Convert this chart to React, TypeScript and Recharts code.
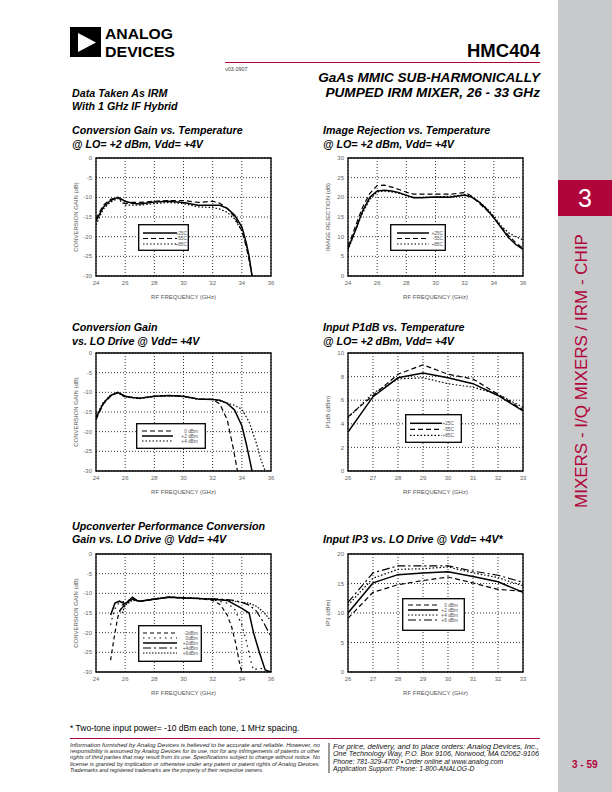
import React from "react";
import { LineChart, Line, XAxis, YAxis, CartesianGrid, ReferenceArea } from "recharts";

const FONT = '"Liberation Sans", Arial, Helvetica, sans-serif';
const RED = "#b0053b";

// axis ticks
const freqTicksWide = [24, 26, 28, 30, 32, 34, 36];
const freqTicksNarrow = [26, 27, 28, 29, 30, 31, 32, 33];
const gainTicks = [-30, -25, -20, -15, -10, -5, 0];
const irTicks = [0, 5, 10, 15, 20, 25, 30];
const p1Ticks = [0, 2, 4, 6, 8, 10];
const ip3Ticks = [0, 5, 10, 15, 20];

// legend names
const tempNames = ["+25C", "-55C", "+85C"];
const loNames = ["0 dBm", "+2 dBm", "+4 dBm"];
const upNames = ["-2dBm", "0dBm", "+2dBm", "+4dBm", "+6dBm"];
const ip3Names = ["0 dBm", "+2 dBm", "+4 dBm", "+6 dBm"];

// Conversion gain vs temperature
const cgTempFreq = [24, 24.5, 25, 25.5, 26, 26.5, 27, 28, 29, 30, 31, 32, 32.5, 33, 33.5, 34, 34.3, 34.5, 34.7];
const cgTemp25 = [-16, -12.5, -10.8, -10, -11, -11.5, -11.7, -11.2, -11, -11.3, -12, -12, -12, -12.8, -14.5, -17.5, -21.5, -25, -30];
const cgTempM55 = [-15.5, -12, -10.5, -10, -11.6, -11.3, -11.3, -11, -10.8, -10.8, -11.3, -11, -11.5, -12.8, -15, -18.5, -22.5, -26, -30];
const cgTemp85 = [-17, -13, -11.2, -10.3, -12, -12, -12, -11.6, -11.3, -11.6, -12.4, -12.6, -13, -13.8, -15.5, -18.5, -22, -25.5, -30];

// Image rejection vs temperature
const irFreq = [24, 24.5, 25, 25.5, 26, 26.5, 27, 27.5, 28, 28.5, 29, 30, 31, 32, 32.5, 33, 33.5, 34, 34.5, 35, 35.5, 36];
const ir25 = [7, 11.5, 16.5, 20, 21.6, 21.8, 21.6, 21.2, 20.5, 19.9, 19.9, 20.1, 20, 20.6, 20, 18.8, 17, 14.8, 12.3, 9.8, 8, 6.8];
const irM55 = [7.5, 12.5, 17.5, 21, 23, 23.1, 22.6, 22, 21.3, 20.8, 20.8, 20.8, 20.8, 21.2, 20.3, 18.5, 16.8, 14.8, 12.5, 10.3, 8.5, 7];
const ir85 = [6.5, 11.5, 16, 19.5, 21.4, 21.6, 21.4, 21, 20.4, 20, 20, 20.1, 20.3, 20.6, 20.2, 18.8, 17.3, 15.2, 12.8, 11, 10, 9.2];

// Conversion gain vs LO drive
const cgLo0Freq = [24, 24.5, 25, 25.5, 26, 26.5, 27, 28, 29, 30, 31, 32, 32.5, 33, 33.4, 33.7];
const cgLo0 = [-17, -13, -11, -10, -11.2, -11.3, -11.5, -11, -10.8, -11, -11.7, -11.8, -13, -17, -24, -30];
const cgLo2Freq = [24, 24.5, 25, 25.5, 26, 26.5, 27, 28, 29, 30, 31, 32, 32.5, 33, 33.5, 34, 34.3, 34.7];
const cgLo2 = [-16.5, -12.8, -10.8, -10, -11, -11.3, -11.5, -11, -10.8, -11, -11.7, -11.8, -12, -12.8, -14.5, -18.5, -23, -30];
const cgLo4Freq = [24, 24.5, 25, 25.5, 26, 26.5, 27, 28, 29, 30, 31, 32, 32.5, 33, 33.5, 34, 34.5, 35, 35.3, 35.6];
const cgLo4 = [-16, -12.5, -10.8, -10.2, -11.2, -11.4, -11.6, -11.1, -10.9, -11.1, -11.8, -11.8, -12.2, -12.7, -13.3, -14.3, -17.5, -23, -27, -30];

// Input P1dB vs temperature
const p1Freq = [26, 27, 28, 29, 30, 31, 32, 33];
const p1_25 = [3.3, 6.3, 7.9, 8.3, 7.9, 7.4, 6.4, 5.1];
const p1_M55 = [4.6, 6.4, 8.2, 9.0, 8.2, 7.8, 6.5, 5.2];
const p1_85 = [4.5, 6.6, 7.8, 7.9, 7.4, 7.1, 6.5, 5.4];

// Upconverter conversion gain vs LO drive
const upM2Freq = [25, 25.3, 25.5, 25.8, 26, 26.5, 27, 28, 29, 30, 31, 32, 32.5, 33, 33.3, 33.6, 33.8, 34];
const upM2 = [-27, -20, -16, -13, -12.5, -11.5, -12, -11.5, -11, -11.2, -11.3, -11.8, -12.8, -15.5, -18.5, -23, -27, -30];
const up0Freq = [25, 25.2, 25.4, 25.7, 26, 26.5, 27, 28, 29, 30, 31, 32, 33, 33.5, 34, 34.3, 34.6, 34.8, 35.2, 35.5];
const up0 = [-18, -15, -13, -12.3, -12, -11.5, -12, -11.5, -11, -11.2, -11.3, -11.6, -12.5, -14, -18, -22, -27, -29.5, -29, -29.3];
const up2Freq = [25, 25.3, 25.6, 26, 26.5, 26.8, 27, 28, 29, 30, 31, 32, 33, 33.5, 34, 34.5, 34.8, 35.2, 35.6, 36];
const up2 = [-15.5, -12.5, -12, -12.7, -11, -11.8, -12, -11.5, -11, -11.2, -11.3, -11.5, -11.8, -12.8, -13.8, -15, -20, -25, -29.5, -30];
const up4Freq = [25.6, 26, 26.5, 27, 28, 29, 30, 31, 32, 33, 33.5, 34, 34.5, 35, 35.5, 36];
const up4 = [-14.5, -12.8, -11.5, -12, -11.4, -10.9, -11.1, -11.3, -11.4, -11.6, -11.8, -12.3, -13, -14.5, -17.5, -21];
const up6Freq = [25.8, 26, 26.5, 27, 28, 29, 30, 31, 32, 33, 34, 34.5, 35, 35.5, 36];
const up6 = [-15, -13, -11.8, -12, -11.4, -11, -11.1, -11.3, -11.4, -11.7, -12.3, -12.5, -13.3, -14.8, -17];

// Input IP3 vs LO drive
const ip3Freq = [26, 27, 28, 29, 30, 31, 32, 33];
const ip3_0 = [9.1, 13.5, 14.8, 15.5, 16.1, 15.1, 14, 13.7];
const ip3_2 = [10, 15.1, 16.5, 16.8, 17, 16.2, 15.3, 13.5];
const ip3_4 = [11.3, 15.9, 17.4, 17.5, 17.8, 16.8, 16, 14.6];
const ip3_6 = [11.8, 16.8, 18, 18, 18, 17.1, 16.4, 15.2];

const SOLID = undefined;
const DASH = "5 3";
const DOT = "1.5 2";

type Series = { name: string; xs: number[]; ys: number[]; dash?: string; w?: number };
type LegendPos = { x: number; y: number; w: number; h: number; l1: number; l2: number; tx: number; r0: number; dr: number };

const zip = (xs: number[], ys: number[]) => xs.map((x, i) => ({ x, y: ys[i] }));

function LegendBox({ pos, series }: { pos: LegendPos; series: Series[] }) {
  return (
    <svg style={{ position: "absolute", left: pos.x, top: pos.y }} width={pos.w} height={pos.h}>
      <rect x={0.7} y={0.7} width={pos.w - 1.4} height={pos.h - 1.4} fill="#fff" stroke="#000" strokeWidth={1.3} />
      {series.map((s, i) => {
        const y = pos.r0 + i * pos.dr;
        return (
          <g key={s.name}>
            <line x1={pos.l1} x2={pos.l2} y1={y} y2={y} stroke="#000" strokeWidth={s.w ?? 1.2} strokeDasharray={s.dash} />
            <text x={pos.tx} y={y + 1.7} fontSize={4.8} fill="#555" textAnchor="end" fontFamily={FONT}>
              {s.name}
            </text>
          </g>
        );
      })}
    </svg>
  );
}

function Plot(props: {
  left: number;
  top: number;
  xTicks: number[];
  yTicks: number[];
  yLabel: string;
  series: Series[];
  legend: LegendPos;
}) {
  const { left, top, xTicks, yTicks, yLabel, series, legend } = props;
  const xd = [xTicks[0], xTicks[xTicks.length - 1]];
  const yd = [yTicks[0], yTicks[yTicks.length - 1]];
  const tick = { fontSize: 6, fill: "#666", fontFamily: FONT };
  return (
    <div style={{ position: "absolute", left, top, width: 220, height: 160 }}>
      <LineChart width={220} height={160} margin={{ top: 8, right: 9, bottom: 4, left: 0 }}>
        <CartesianGrid stroke="#000" strokeWidth={0.8} strokeDasharray="1 2" />
        <XAxis
          type="number"
          dataKey="x"
          domain={xd}
          ticks={xTicks}
          interval={0}
          allowDataOverflow
          height={30}
          tickSize={0}
          tickMargin={5}
          axisLine={false}
          tick={tick}
          label={{ value: "RF FREQUENCY (GHz)", position: "insideBottom", offset: 7, style: { fontSize: 6, fill: "#555", fontFamily: FONT } }}
        />
        <YAxis
          type="number"
          dataKey="y"
          domain={yd}
          ticks={yTicks}
          interval={0}
          allowDataOverflow
          width={36}
          tickSize={0}
          tickMargin={4}
          axisLine={false}
          tick={tick}
          label={{ value: yLabel, angle: -90, position: "insideLeft", offset: 16, style: { textAnchor: "middle", fontSize: 6, fill: "#555", fontFamily: FONT } }}
        />
        {series.map((s) => (
          <Line
            key={s.name}
            name={s.name}
            data={zip(s.xs, s.ys)}
            dataKey="y"
            type="linear"
            stroke="#000"
            strokeWidth={s.w ?? 1.2}
            strokeDasharray={s.dash}
            dot={false}
            activeDot={false}
            isAnimationActive={false}
          />
        ))}
        <ReferenceArea x1={xd[0]} x2={xd[1]} y1={yd[0]} y2={yd[1]} fill="none" stroke="#000" strokeWidth={1.3} />
      </LineChart>
      <LegendBox pos={legend} series={series} />
    </div>
  );
}

function Txt(props: { x: number; y: number; size: number; bold?: boolean; italic?: boolean; color?: string; end?: boolean; children: React.ReactNode }) {
  const { x, y, size, bold, italic, color = "#000", end, children } = props;
  const style: React.CSSProperties = {
    position: "absolute",
    top: y - 0.92 * size,
    fontSize: size,
    lineHeight: `${size * 1.15}px`,
    fontWeight: bold ? 700 : 400,
    fontStyle: italic ? "italic" : "normal",
    color,
    whiteSpace: "nowrap",
    fontFamily: FONT,
  };
  if (end) style.right = 612 - x;
  else style.left = x;
  return <div style={style}>{children}</div>;
}

const disclaimer = [
  "Information furnished by Analog Devices is believed to be accurate and reliable. However, no",
  "responsibility is assumed by Analog Devices for its use, nor for any infringements of patents or other",
  "rights of third parties that may result from its use. Specifications subject to change without notice. No",
  "license is granted by implication or otherwise under any patent or patent rights of Analog Devices.",
  "Trademarks and registered trademarks are the property of their respective owners.",
];
const contact = [
  "For price, delivery, and to place orders: Analog Devices, Inc.,",
  "One Technology Way, P.O. Box 9106, Norwood, MA 02062-9106",
  "Phone: 781-329-4700 \u2022 Order online at www.analog.com",
  "Application Support: Phone: 1-800-ANALOG-D",
];

export default function App() {
  const tempSeries = (xs: number[], a: number[], b: number[], c: number[]): Series[] => [
    { name: tempNames[0], xs, ys: a, dash: SOLID, w: 1.5 },
    { name: tempNames[1], xs, ys: b, dash: DASH },
    { name: tempNames[2], xs, ys: c, dash: DOT },
  ];
  const cgLoSeries: Series[] = [
    { name: loNames[0], xs: cgLo0Freq, ys: cgLo0, dash: DASH },
    { name: loNames[1], xs: cgLo2Freq, ys: cgLo2, dash: SOLID, w: 1.5 },
    { name: loNames[2], xs: cgLo4Freq, ys: cgLo4, dash: DOT },
  ];
  const upSeries: Series[] = [
    { name: upNames[0], xs: upM2Freq, ys: upM2, dash: "4 3" },
    { name: upNames[1], xs: up0Freq, ys: up0, dash: "1.5 4" },
    { name: upNames[2], xs: up2Freq, ys: up2, dash: SOLID, w: 1.5 },
    { name: upNames[3], xs: up4Freq, ys: up4, dash: "8 3 2 3" },
    { name: upNames[4], xs: up6Freq, ys: up6, dash: "1.5 1.5" },
  ];
  const ip3Series: Series[] = [
    { name: ip3Names[0], xs: ip3Freq, ys: ip3_0, dash: DASH },
    { name: ip3Names[1], xs: ip3Freq, ys: ip3_2, dash: SOLID, w: 1.5 },
    { name: ip3Names[2], xs: ip3Freq, ys: ip3_4, dash: DOT },
    { name: ip3Names[3], xs: ip3Freq, ys: ip3_6, dash: "8 3 2 3" },
  ];

  return (
    <div style={{ position: "absolute", left: 0, top: 0, width: 612, height: 792, background: "#fff", overflow: "hidden", fontFamily: FONT }}>
      {/* side tab */}
      <div style={{ position: "absolute", left: 558, top: 0, width: 54, height: 792, background: "#c8c9cb" }} />
      <div style={{ position: "absolute", left: 558, top: 180, width: 54, height: 36, background: RED, color: "#fff", fontSize: 25, lineHeight: "36px", textAlign: "center" }}>3</div>
      <div style={{ position: "absolute", left: 432, top: 361, width: 300, height: 20, lineHeight: "20px", textAlign: "center", transform: "rotate(-90deg)", color: RED, fontSize: 17, whiteSpace: "nowrap" }}>
        MIXERS - I/Q MIXERS / IRM - CHIP
      </div>

      {/* logo */}
      <svg style={{ position: "absolute", left: 70, top: 26 }} width={150} height={34}>
        <rect x={0} y={1} width={31} height={30} fill="#000" />
        <polygon points="8,7 8,26 26,16.5" fill="#fff" />
        <text x={35} y={13} fontSize={15.5} fontWeight={700} textLength={68} lengthAdjust="spacingAndGlyphs" fontFamily={FONT}>ANALOG</text>
        <text x={35} y={30.5} fontSize={15.5} fontWeight={700} textLength={70} lengthAdjust="spacingAndGlyphs" fontFamily={FONT}>DEVICES</text>
      </svg>

      <Txt x={540} y={57} size={18.5} bold end>HMC404</Txt>
      <div style={{ position: "absolute", left: 225, top: 62, width: 315, height: 1.2, background: RED }} />
      <Txt x={225} y={71} size={5.5} color="#444">v03.0907</Txt>
      <Txt x={540} y={83} size={13.6} bold italic end>GaAs MMIC SUB-HARMONICALLY</Txt>
      <Txt x={540} y={98} size={13.6} bold italic end>PUMPED IRM MIXER, 26 - 33 GHz</Txt>
      <Txt x={72} y={97} size={10.7} bold italic>Data Taken As IRM</Txt>
      <Txt x={72} y={110} size={10.7} bold italic>With 1 GHz IF Hybrid</Txt>

      {/* chart titles */}
      <Txt x={72} y={134} size={10.7} bold italic>Conversion Gain vs. Temperature</Txt>
      <Txt x={72} y={147.5} size={10.7} bold italic>@ LO= +2 dBm, Vdd= +4V</Txt>
      <Txt x={323} y={134} size={10.7} bold italic>Image Rejection vs. Temperature</Txt>
      <Txt x={323} y={147.5} size={10.7} bold italic>@ LO= +2 dBm, Vdd= +4V</Txt>
      <Txt x={72} y={330.5} size={10.7} bold italic>Conversion Gain</Txt>
      <Txt x={72} y={345} size={10.7} bold italic>vs. LO Drive @ Vdd= +4V</Txt>
      <Txt x={323} y={330.5} size={10.7} bold italic>Input P1dB vs. Temperature</Txt>
      <Txt x={323} y={345} size={10.7} bold italic>@ LO= +2 dBm, Vdd= +4V</Txt>
      <Txt x={72} y={529.5} size={10.7} bold italic>Upconverter Performance Conversion</Txt>
      <Txt x={72} y={543} size={10.7} bold italic>Gain vs. LO Drive @ Vdd= +4V</Txt>
      <Txt x={323} y={542.5} size={10.7} bold italic>Input IP3 vs. LO Drive @ Vdd= +4V*</Txt>

      <Plot left={60} top={150} xTicks={freqTicksWide} yTicks={gainTicks} yLabel="CONVERSION GAIN (dB)"
        series={tempSeries(cgTempFreq, cgTemp25, cgTempM55, cgTemp85)}
        legend={{ x: 78, y: 74, w: 51, h: 27, l1: 5, l2: 39, tx: 49, r0: 9, dr: 5.5 }} />
      <Plot left={312} top={150} xTicks={freqTicksWide} yTicks={irTicks} yLabel="IMAGE REJECTION (dB)"
        series={tempSeries(irFreq, ir25, irM55, ir85)}
        legend={{ x: 78, y: 74, w: 56, h: 27, l1: 7, l2: 39, tx: 53, r0: 9, dr: 5.5 }} />
      <Plot left={60} top={345} xTicks={freqTicksWide} yTicks={gainTicks} yLabel="CONVERSION GAIN (dB)"
        series={cgLoSeries}
        legend={{ x: 76, y: 78, w: 70, h: 26, l1: 6, l2: 37, tx: 62, r0: 8, dr: 5 }} />
      <Plot left={312} top={345} xTicks={freqTicksNarrow} yTicks={p1Ticks} yLabel="P1dB  (dBm)"
        series={tempSeries(p1Freq, p1_25, p1_M55, p1_85)}
        legend={{ x: 93, y: 69, w: 57, h: 29, l1: 5, l2: 37, tx: 49, r0: 9.3, dr: 6 }} />
      <Plot left={60} top={546} xTicks={freqTicksWide} yTicks={gainTicks} yLabel="CONVERSION GAIN (dB)"
        series={upSeries}
        legend={{ x: 78, y: 79, w: 64, h: 37, l1: 5, l2: 39, tx: 60, r0: 8, dr: 5 }} />
      <Plot left={312} top={546} xTicks={freqTicksNarrow} yTicks={ip3Ticks} yLabel="IP3  (dBm)"
        series={ip3Series}
        legend={{ x: 90, y: 52, w: 63, h: 33, l1: 6, l2: 36, tx: 56, r0: 7, dr: 5 }} />

      {/* footer */}
      <Txt x={70} y={732} size={8.5}>* Two-tone input power= -10 dBm each tone, 1 MHz spacing.</Txt>
      <div style={{ position: "absolute", left: 70, top: 738, width: 470, height: 1.2, background: RED }} />
      <svg style={{ position: "absolute", left: 70, top: 742 }} width={480} height={36}>
        {disclaimer.map((t, i) => (
          <text key={i} x={0} y={5 + i * 6.2} fontSize={5.3} fontStyle="italic" fill="#222" fontFamily={FONT}
            textLength={i < 4 ? 250 : undefined} lengthAdjust="spacingAndGlyphs">{t}</text>
        ))}
        <line x1={259} x2={259} y1={1} y2={31} stroke="#000" strokeWidth={0.8} />
        {contact.map((t, i) => (
          <text key={i} x={263} y={7 + i * 7.3} fontSize={6.8} fontStyle="italic" fill="#111" fontFamily={FONT}
            textLength={i < 2 ? 206 : undefined} lengthAdjust="spacingAndGlyphs">{t}</text>
        ))}
      </svg>
      <Txt x={572} y={768} size={10} bold color={RED}>3 - 59</Txt>
    </div>
  );
}
